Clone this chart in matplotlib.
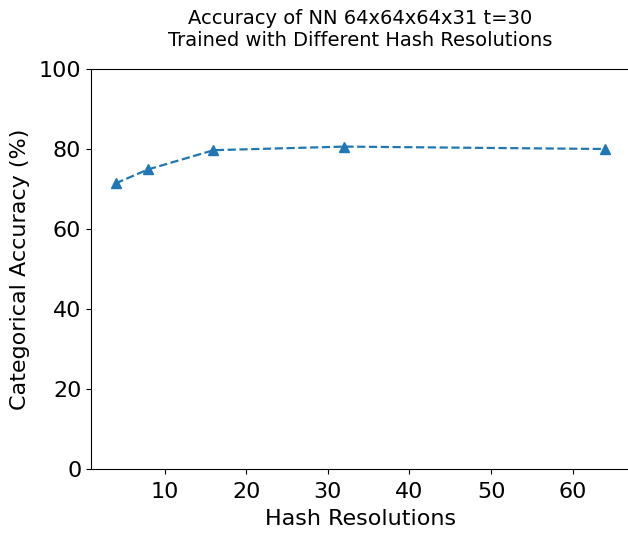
import matplotlib
matplotlib.use('Agg')
import matplotlib.pyplot as plt

hash_resolutions = [4, 8, 16, 32, 64]
accuracy = [71.4, 74.9, 79.7, 80.6, 80.0]

title_text = 'Accuracy of NN 64x64x64x31 t=30\nTrained with Different Hash Resolutions'

fig = plt.figure(figsize=(6.28, 5.34), dpi=100)
# right edge of the axes sits just past the image edge (original was cropped there)
ax = fig.add_axes([91 / 628, 65 / 534, 539 / 628, 400 / 534])

ax.plot(hash_resolutions, accuracy, linestyle='--', linewidth=1.6,
        marker='^', markersize=6.5, color='tab:blue')

ax.set_xlim(1, 67)
ax.set_ylim(0, 100)
ax.set_xticks([10, 20, 30, 40, 50, 60])
ax.tick_params(labelsize=16)
ax.tick_params(axis='x', pad=6)
ax.set_xlabel('Hash Resolutions', fontsize=16, labelpad=5)
ax.set_ylabel('Categorical Accuracy (%)', fontsize=16, labelpad=6)
ax.set_title(title_text, fontsize=14, pad=16.5)

fig.savefig('out.png', dpi=100)
